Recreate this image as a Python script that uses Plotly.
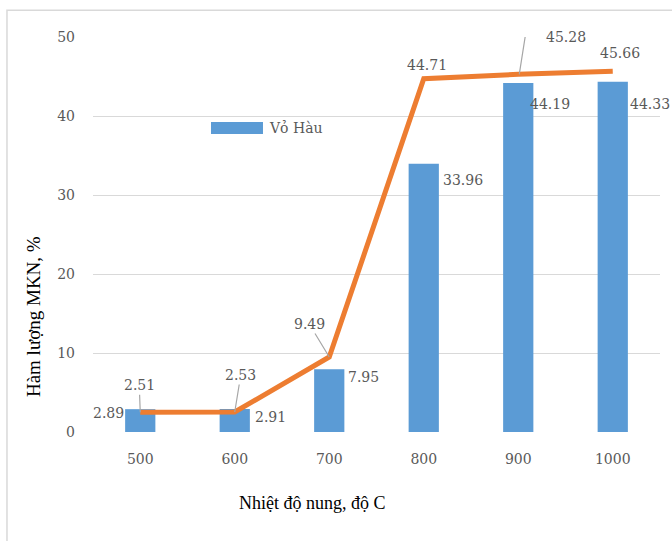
import plotly.graph_objects as go

# Calcination temperature (°C) and loss-on-ignition content (%)
temperatures = ["500", "600", "700", "800", "900", "1000"]
bar_values = [2.89, 2.91, 7.95, 33.96, 44.19, 44.33]
line_values = [2.51, 2.53, 9.49, 44.71, 45.28, 45.66]
series_name = "Vỏ Hàu"
y_ticks = [0, 10, 20, 30, 40, 50]

BLUE = "#5B9BD5"
ORANGE = "#ED7D31"
GREY_TXT = "#595959"
GRID = "#D9D9D9"
LEADER = "#A6A6A6"
NUM_FONT = dict(family="DejaVu Serif", size=14, color=GREY_TXT)
TITLE_FONT = dict(family="Liberation Serif", size=18, color="#000000")

# label offsets in pixels (x right, y up) relative to the top of each bar
bar_label_shift = [(-32, -4), (36, -8), (34, -8), (39, -16), (32, -21), (37, -22)]
# line label offsets: (dx, dy, leader) with dy measured downward
line_label_pos = [(-1, -27, "arrow"), (6, -37, "arrow"), (-20, -33, "arrow"),
                  (3, -14, None), (48, -37, "bent"), (7, -18, None)]

fig = go.Figure()
fig.add_trace(go.Bar(
    x=temperatures, y=bar_values, name=series_name,
    marker=dict(color=BLUE, line=dict(width=0)),
    width=0.32, showlegend=False,
))
fig.add_trace(go.Scatter(
    x=temperatures, y=line_values, mode="lines",
    line=dict(color=ORANGE, width=5), showlegend=False,
    cliponaxis=False,
))

# category axes place items at integer positions 0..n-1
annotations = []
for idx, (val, (dx, dy)) in enumerate(zip(bar_values, bar_label_shift)):
    annotations.append(dict(
        x=idx, y=val, xref="x", yref="y", text=f"{val:.2f}",
        showarrow=False, xanchor="center", yanchor="middle",
        xshift=dx, yshift=dy, font=NUM_FONT,
    ))

shapes = []
for idx, (val, (dx, dy, kind)) in enumerate(zip(line_values, line_label_pos)):
    if kind == "arrow":
        annotations.append(dict(
            x=idx, y=val, xref="x", yref="y", text=f"{val:.2f}",
            showarrow=True, arrowhead=0, arrowwidth=1.2, arrowcolor=LEADER,
            ax=dx, ay=dy, font=NUM_FONT,
        ))
    else:
        annotations.append(dict(
            x=idx, y=val, xref="x", yref="y", text=f"{val:.2f}",
            showarrow=False, xanchor="center", yanchor="middle",
            xshift=dx, yshift=-dy, font=NUM_FONT,
        ))
        if kind == "bent":
            shapes.append(dict(
                type="path", xref="x", yref="y",
                xsizemode="pixel", ysizemode="pixel",
                xanchor=idx, yanchor=val,
                path="M1,0 L7,38 L20,38",
                line=dict(color=LEADER, width=1.2),
            ))

# outer chart frame
shapes.append(dict(
    type="rect", xref="paper", yref="paper",
    x0=-0.1517, x1=1.3, y0=-0.6, y1=1.068,
    line=dict(color=GRID, width=1.5), layer="below",
))

# legend swatch and label
shapes.append(dict(
    type="rect", xref="paper", yref="paper",
    x0=0.2081, x1=0.2998, y0=0.7544, y1=0.7848,
    fillcolor=BLUE, line=dict(width=0),
))
annotations.append(dict(
    x=0.3069, y=0.7696, xref="paper", yref="paper", text=series_name,
    showarrow=False, xanchor="left", yanchor="middle", font=NUM_FONT,
))

# axis titles
annotations.append(dict(
    x=0.388, y=-0.1797, xref="paper", yref="paper",
    text="Nhiệt độ nung, độ C", showarrow=False,
    xanchor="center", yanchor="middle", font=TITLE_FONT,
))
annotations.append(dict(
    x=-0.1058, y=0.291, xref="paper", yref="paper",
    text="Hàm lượng MKN, %", showarrow=False, textangle=-90,
    xanchor="center", yanchor="middle",
    font=dict(family="Liberation Serif", size=19, color="#000000"),
))

fig.update_layout(
    width=672, height=541, autosize=False,
    margin=dict(l=93, r=12, t=37, b=109),
    paper_bgcolor="white", plot_bgcolor="white",
    annotations=annotations, shapes=shapes,
    xaxis=dict(
        type="category", categoryorder="array", categoryarray=temperatures,
        range=[-0.5, len(temperatures) - 0.5],
        showgrid=False, showline=False, zeroline=False,
        ticks="", tickfont=NUM_FONT, ticklabelstandoff=17,
    ),
    yaxis=dict(
        range=[0, 50], tickvals=y_ticks, showgrid=True, gridcolor=GRID,
        gridwidth=1.3, showline=False, zeroline=False, ticks="",
        tickfont=NUM_FONT, ticklabelstandoff=17,
    ),
)

fig.write_html("out.html")
